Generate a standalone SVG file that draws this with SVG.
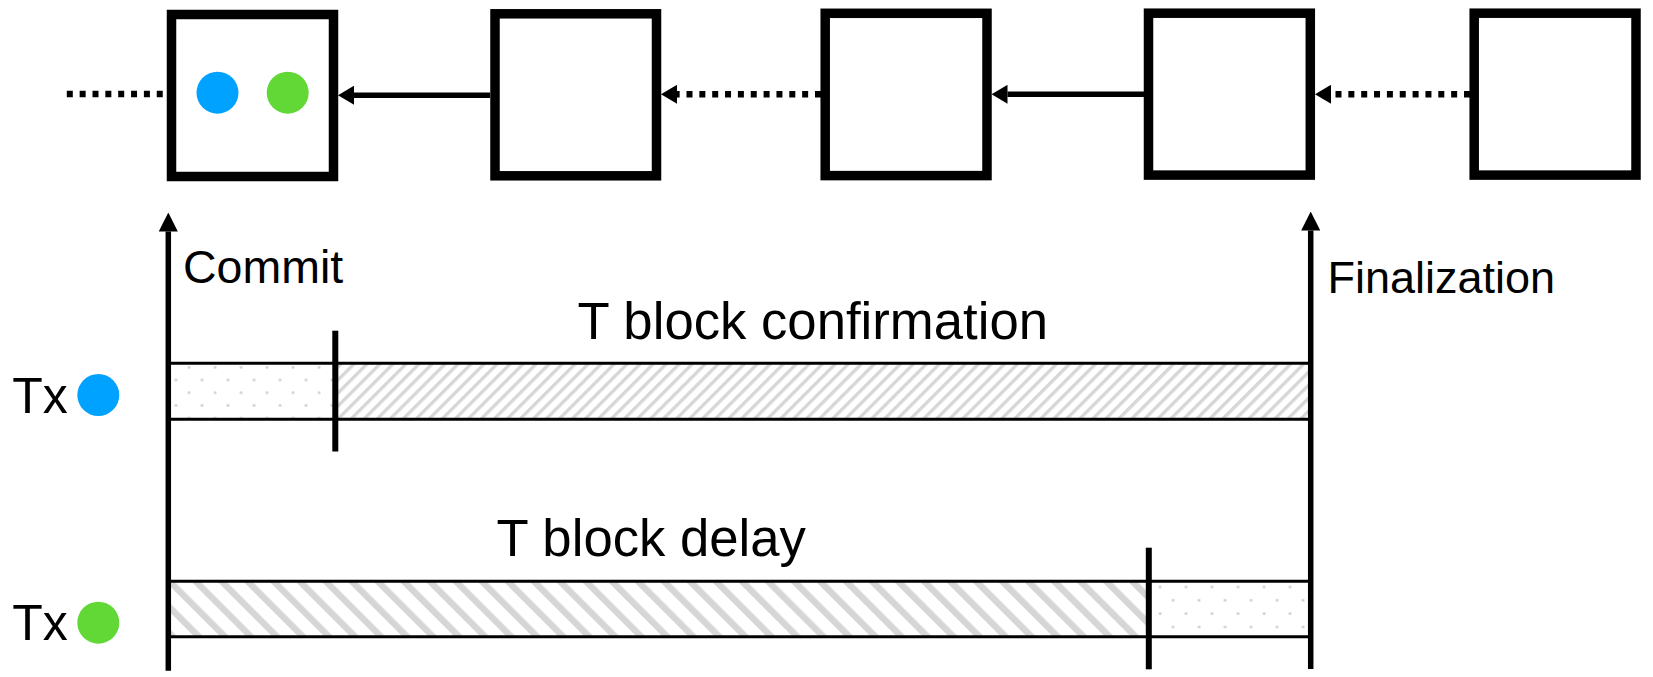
<svg xmlns="http://www.w3.org/2000/svg" width="1653" height="677" viewBox="0 0 1653 677">
  <style>
    .block { fill: #ffffff; stroke: #000000; stroke-width: 9.5; }
    .link { stroke: #000000; stroke-width: 5.5; fill: none; }
    .dotted { stroke: #000000; stroke-width: 6.5; fill: none; stroke-dasharray: 6 6.85; }
    .axis { stroke: #000000; stroke-width: 5.5; fill: none; }
    .edge { stroke: #000000; stroke-width: 3; fill: none; }
    .tick { stroke: #000000; stroke-width: 6; fill: none; }
    .label { font-family: "Liberation Sans", Arial, Helvetica, sans-serif; fill: #000000; }
    .tx-blue { fill: #00a2ff; }
    .tx-green { fill: #61d836; }
  </style>
  <defs>
    <!-- horizontal chain arrowhead: base at the line end, tip 16px ahead -->
    <marker id="headH" viewBox="0 0 16 19" refX="0" refY="9.5" markerWidth="16" markerHeight="19" markerUnits="userSpaceOnUse" orient="auto">
      <path d="M0,0 L16,9.5 L0,19 Z" fill="#000000"/>
    </marker>
    <!-- time axis arrowhead -->
    <marker id="headV" viewBox="0 0 19 19" refX="0" refY="9.5" markerWidth="19" markerHeight="19" markerUnits="userSpaceOnUse" orient="auto">
      <path d="M0,0 L19,9.5 L0,19 Z" fill="#000000"/>
    </marker>
    <!-- fine diagonal hatch "/" -->
    <pattern id="hatchFine" patternUnits="userSpaceOnUse" width="9.2" height="9.2" patternTransform="rotate(45)">
      <rect x="0" y="0" width="3.3" height="9.2" fill="#d6d6d6"/>
    </pattern>
    <!-- wide diagonal hatch "\" -->
    <pattern id="hatchWide" patternUnits="userSpaceOnUse" width="18.4" height="18.4" patternTransform="rotate(-45)">
      <rect x="0" y="0" width="6.5" height="18.4" fill="#d6d6d6"/>
    </pattern>
    <!-- staggered stipple -->
    <pattern id="stippleA" patternUnits="userSpaceOnUse" x="182.5" y="361" width="26" height="25.4">
      <rect x="5.3" y="5.1" width="2.5" height="2.5" fill="#cccccc"/>
      <rect x="18.3" y="17.8" width="2.5" height="2.5" fill="#cccccc"/>
    </pattern>
    <pattern id="stippleB" patternUnits="userSpaceOnUse" x="1153.5" y="580.5" width="26" height="26.6">
      <rect x="5.3" y="5.3" width="2.5" height="2.5" fill="#cccccc"/>
      <rect x="18.3" y="18.6" width="2.5" height="2.5" fill="#cccccc"/>
    </pattern>
  </defs>

  <rect x="0" y="0" width="1653" height="677" fill="#ffffff"/>

  <!-- chain links (newer block points back to older block) -->
  <g id="connectors">
    <line class="dotted" x1="66.8" y1="94" x2="166.7" y2="94"/>
    <line class="link" x1="490" y1="95.2" x2="354" y2="95.2" marker-end="url(#headH)"/>
    <line class="dotted" x1="821" y1="94.3" x2="677" y2="94.3" marker-end="url(#headH)"/>
    <line class="link" x1="1144" y1="94.3" x2="1007.5" y2="94.3" marker-end="url(#headH)"/>
    <line class="dotted" x1="1470" y1="94.3" x2="1331" y2="94.3" marker-end="url(#headH)"/>
  </g>

  <!-- blocks -->
  <g id="block-1">
    <rect class="block" x="171.5" y="14.5" width="162" height="162"/>
    <circle class="tx-blue" cx="217.5" cy="92.7" r="21"/>
    <circle class="tx-green" cx="287.7" cy="92.7" r="21"/>
  </g>
  <g id="block-2">
    <rect class="block" x="495" y="13.8" width="161.5" height="162"/>
  </g>
  <g id="block-3">
    <rect class="block" x="825.2" y="13.3" width="161.8" height="162.3"/>
  </g>
  <g id="block-4">
    <rect class="block" x="1148.5" y="13.2" width="161.8" height="161.9"/>
  </g>
  <g id="block-5">
    <rect class="block" x="1474.2" y="13.2" width="161.8" height="161.9"/>
  </g>

  <!-- timeline bars -->
  <g id="bar-blue">
    <rect x="168" y="363.3" width="167.3" height="56" fill="url(#stippleA)"/>
    <rect x="335.3" y="363.3" width="975.4" height="56" fill="url(#hatchFine)"/>
    <line class="edge" x1="168" y1="363.3" x2="1311" y2="363.3"/>
    <line class="edge" x1="168" y1="419.3" x2="1311" y2="419.3"/>
    <line class="tick" x1="335.3" y1="330.7" x2="335.3" y2="451.5"/>
  </g>
  <g id="bar-green">
    <rect x="168" y="581.2" width="980.8" height="55.5" fill="url(#hatchWide)"/>
    <rect x="1148.8" y="581.2" width="161.9" height="55.5" fill="url(#stippleB)"/>
    <line class="edge" x1="168" y1="581.2" x2="1311" y2="581.2"/>
    <line class="edge" x1="168" y1="636.7" x2="1311" y2="636.7"/>
    <line class="tick" x1="1148.8" y1="547.7" x2="1148.8" y2="669.3"/>
  </g>

  <!-- time axes -->
  <g id="commit-axis">
    <line class="axis" x1="168.3" y1="670.7" x2="168.3" y2="231.5" marker-end="url(#headV)"/>
    <text class="label" x="183" y="283.3" font-size="46.5">Commit</text>
  </g>
  <g id="finalization-axis">
    <line class="axis" x1="1310.7" y1="669" x2="1310.7" y2="230.5" marker-end="url(#headV)"/>
    <text class="label" x="1327.5" y="292.5" font-size="45">Finalization</text>
  </g>

  <g id="interval-labels">
    <text class="label" x="577.5" y="338.5" font-size="52.7">T block confirmation</text>
    <text class="label" x="496.5" y="556" font-size="52.7">T block delay</text>
  </g>

  <!-- transaction legend -->
  <g id="tx-blue-label">
    <text class="label" x="12.3" y="413.3" font-size="50">Tx</text>
    <circle class="tx-blue" cx="98.3" cy="395" r="21"/>
  </g>
  <g id="tx-green-label">
    <text class="label" x="12.3" y="640" font-size="50">Tx</text>
    <circle class="tx-green" cx="98.3" cy="622.7" r="21"/>
  </g>
</svg>
